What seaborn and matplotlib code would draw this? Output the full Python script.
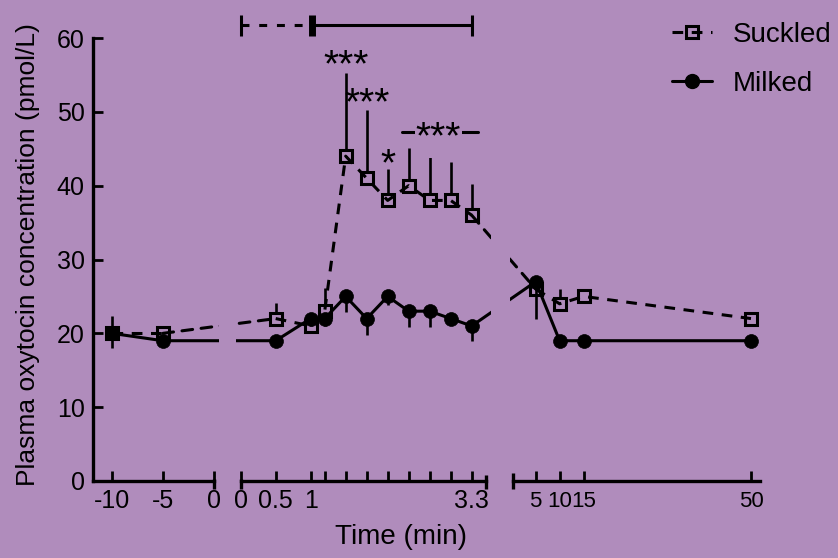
import matplotlib
matplotlib.use("Agg")
import matplotlib.pyplot as plt
from matplotlib.patches import ConnectionPatch
from matplotlib.lines import Line2D
import seaborn as sns
import pandas as pd

# ---------------- data ----------------
pre_time = [-10, -5]
pre_suckled = [20, 20]
pre_suckled_err = [2.3, 0.5]
pre_milked = [20, 19]
pre_milked_err = [2.0, 0.5]

during_time = [0.5, 1.0, 1.2, 1.5, 1.8, 2.1, 2.4, 2.7, 3.0, 3.3]
during_suckled = [22, 21, 23, 44, 41, 38, 40, 38, 38, 36]
during_suckled_err = [2.1, 1.0, 3.2, 11.2, 9.2, 4.2, 5.1, 6.2, 5.2, 4.2]
during_milked = [19, 22, 22, 25, 22, 25, 23, 23, 22, 21]
during_milked_err = [0.5, 1.0, 1.0, 2.1, 2.2, 1.2, 2.2, 2.2, 0.8, 2.1]

post_time = [5, 10, 15, 50]
post_suckled = [26, 24, 25, 22]
post_suckled_err = [1.5, 2.0, 0.6, 0.6]
post_milked = [27, 19, 19, 19]
post_milked_err = [5.0, 0.5, 0.5, 0.5]

pre_ticks = [-10, -5, 0]
pre_ticklabels = ["-10", "-5", "0"]
during_ticks = [0, 0.5, 1, 1.2, 1.5, 1.8, 2.1, 2.4, 2.7, 3.0, 3.3]
during_ticklabels = ["0", "0.5", "1", "", "", "", "", "", "", "", "3.3"]
post_ticks = [5, 10, 15, 50]
post_ticklabels = ["5", "10", "15", "50"]
y_ticks = [0, 10, 20, 30, 40, 50, 60]

# significance annotations (time, label)
sig_single_times = [1.5, 1.8, 2.1]
sig_single_labels = ["***", "***", "*"]
sig_single_heights = [54.8, 49.6, 41.4]

BG = "#b08cbc"
LW = 2.2
DASH = (0, (3.5, 2.8))

sns.set_style("ticks")
plt.rcParams["font.family"] = ["Liberation Sans", "DejaVu Sans"]
plt.rcParams["axes.facecolor"] = "none"
plt.rcParams["text.color"] = "k"
plt.rcParams["axes.edgecolor"] = "k"
plt.rcParams["axes.labelcolor"] = "k"
plt.rcParams["xtick.color"] = "k"
plt.rcParams["ytick.color"] = "k"

def frame(t, s, se, m, me):
    a = pd.DataFrame({"time": t, "conc": s, "err": se, "group": "Suckled"})
    b = pd.DataFrame({"time": t, "conc": m, "err": me, "group": "Milked"})
    return pd.concat([a, b], ignore_index=True)

segments = [
    frame(pre_time, pre_suckled, pre_suckled_err, pre_milked, pre_milked_err),
    frame(during_time, during_suckled, during_suckled_err, during_milked, during_milked_err),
    frame(post_time, post_suckled, post_suckled_err, post_milked, post_milked_err),
]

W, H = 838, 558
fig = plt.figure(figsize=(W / 100, H / 100), dpi=100, facecolor=BG)

def rect(left, right, bottom=481, top=38):
    return [left / W, (H - bottom) / H, (right - left) / W, (bottom - top) / H]

ax1 = fig.add_axes(rect(93, 219.1))
ax2 = fig.add_axes(rect(236, 491))
ax3 = fig.add_axes(rect(510, 760))
axes = [ax1, ax2, ax3]
xlims = [(-11.83, 0.49), (-0.067, 3.576), (-0.372, 51.885)]
bounds = [(-11.83, 0), (0, 3.5), (0.2, 51.885)]
ticks = [(pre_ticks, pre_ticklabels), (during_ticks, during_ticklabels), (post_ticks, post_ticklabels)]

for ax, df, xl, bd, (tk, tl) in zip(axes, segments, xlims, bounds, ticks):
    ax.set_facecolor("none")
    s = df[df.group == "Suckled"]
    m = df[df.group == "Milked"]
    # error bars (one-sided)
    ax.errorbar(s.time, s.conc, yerr=[[0] * len(s), list(s.err)], fmt="none",
                ecolor="k", elinewidth=1.9, capsize=0, zorder=1)
    ax.plot(s.time, s.conc, ls="none", marker="s", ms=9, mfc=BG, mec="none", zorder=1.5)
    ax.errorbar(m.time, m.conc, yerr=[list(m.err), [0] * len(m)], fmt="none",
                ecolor="k", elinewidth=1.9, capsize=0, zorder=1.6)
    sns.lineplot(data=s, x="time", y="conc", ax=ax, color="k", lw=LW,
                 linestyle=DASH, zorder=2)
    sns.lineplot(data=m, x="time", y="conc", ax=ax, color="k", lw=LW, zorder=2)
    ax.plot(s.time, s.conc, ls="none", marker="s", ms=9, mfc="none", mec="k",
            mew=2.2, zorder=3)
    ax.plot(m.time, m.conc, ls="none", marker="o", ms=10, mfc="k", mec="k",
            mew=0.5, zorder=3.5)
    ax.set_xlim(*xl)
    ax.set_ylim(0, 60)
    ax.set_xlabel("")
    ax.set_ylabel("")
    ax.set_xticks(tk)
    ax.set_xticklabels(tl)
    for sp in ("top", "right"):
        ax.spines[sp].set_visible(False)
    ax.spines["bottom"].set_bounds(*bd)
    ax.spines["bottom"].set_linewidth(2.4)
    ax.spines["left"].set_linewidth(2.4)
    ax.tick_params(axis="x", direction="in", length=7.2, width=2, labelsize=18,
                   pad=6, colors="k")
    ax.tick_params(axis="y", direction="in", length=7.2, width=2, labelsize=18,
                   pad=6, colors="k")

# the crowded post-period labels are a little smaller so they do not collide
ax3.tick_params(axis="x", labelsize=16, pad=7)

ax1.set_yticks(y_ticks)
for ax in (ax2, ax3):
    ax.spines["left"].set_visible(False)
    ax.tick_params(axis="y", left=False, labelleft=False)

# segment end caps of the broken axis
cap_kw = dict(color="k", lw=2.4, clip_on=False, solid_capstyle="butt")
ax1.plot([0, 0], [-1.1, 0.3], **cap_kw)
ax2.plot([0, 0], [-1.1, 0.3], **cap_kw)
ax2.plot([3.5, 3.5], [-1.1, 0.8], **cap_kw)
ax3.plot([0.2, 0.2], [-1.1, 1.1], **cap_kw)

# connectors across the axis breaks (clipped by each panel)
def connect(axA, xA, yA, axB, xB, yB, **kw):
    for host in (axA, axB):
        cp = ConnectionPatch(xyA=(xA, yA), coordsA=axA.transData,
                             xyB=(xB, yB), coordsB=axB.transData,
                             clip_on=True, color="k", lw=LW, zorder=2, **kw)
        host.add_artist(cp)

connect(ax1, pre_time[-1], pre_suckled[-1], ax2, during_time[0], during_suckled[0], linestyle=DASH)
connect(ax1, pre_time[-1], pre_milked[-1], ax2, during_time[0], during_milked[0])
connect(ax2, during_time[-1], during_suckled[-1], ax3, post_time[0], post_suckled[0], linestyle=DASH)
connect(ax2, during_time[-1], during_milked[-1], ax3, post_time[0], post_milked[0])

# top bar (stimulation period)
bar_y = 61.7
bk = dict(color="k", clip_on=False, solid_capstyle="butt")
ax2.plot([0, 1], [bar_y, bar_y], lw=2.2, linestyle=(0, (2.6, 3.2)), **bk)
ax2.plot([1, 3.3], [bar_y, bar_y], lw=2.2, **bk)
ax2.plot([0, 0], [bar_y - 1.4, bar_y + 1.4], lw=2.2, **bk)
ax2.plot([1.02, 1.02], [bar_y - 1.4, bar_y + 1.4], lw=5, **bk)
ax2.plot([3.3, 3.3], [bar_y - 1.4, bar_y + 1.4], lw=2.2, **bk)

# significance stars
for t, lab, h in zip(sig_single_times, sig_single_labels, sig_single_heights):
    ax2.text(t, h, lab, ha="center", va="baseline", fontsize=28, color="k", zorder=5)
ax2.plot([2.3, 3.39], [47.3, 47.3], color="k", lw=2.2, clip_on=False, zorder=4)
ax2.text(2.82, 45.0, "***", ha="center", va="baseline", fontsize=28, color="k",
         zorder=5, bbox=dict(facecolor=BG, edgecolor="none", pad=0.5))

# axis labels
fig.text(401 / W, 1 - 537 / H, "Time (min)", ha="center", va="center", fontsize=20)
fig.text(28 / W, 1 - 255 / H, "Plasma oxytocin concentration (pmol/L)", ha="center",
         va="center", rotation=90, fontsize=19)

# legend
handles = [
    Line2D([], [], color="k", lw=LW, linestyle=DASH, marker="s", ms=9, mfc="none",
           mec="k", mew=2.2),
    Line2D([], [], color="k", lw=LW, marker="o", ms=10, mfc="k", mec="k"),
]
fig.legend(handles, ["Suckled", "Milked"], loc="upper left",
           bbox_to_anchor=(672 / W, 1 - 22 / H), frameon=False, fontsize=20,
           handlelength=1.45, handletextpad=0.75, labelspacing=0.82,
           borderpad=0, borderaxespad=0)

fig.savefig("out.png", dpi=100, facecolor=BG)
